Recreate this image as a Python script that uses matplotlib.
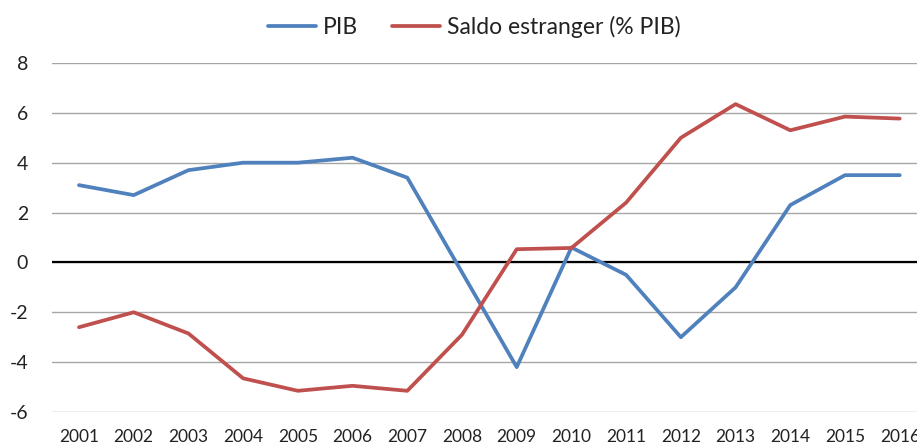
import matplotlib
matplotlib.use("Agg")
import matplotlib.pyplot as plt

years = ["2001", "2002", "2003", "2004", "2005", "2006", "2007", "2008",
         "2009", "2010", "2011", "2012", "2013", "2014", "2015", "2016"]
pib = [3.1, 2.7, 3.7, 4.0, 4.0, 4.2, 3.4, -0.4,
       -4.2, 0.6, -0.5, -3.0, -1.0, 2.3, 3.5, 3.5]
saldo = [-2.6, -2.0, -2.85, -4.65, -5.15, -4.95, -5.15, -2.9,
         0.53, 0.58, 2.4, 5.0, 6.35, 5.3, 5.85, 5.77]
yticks = [-6, -4, -2, 0, 2, 4, 6, 8]

plt.rcParams['font.family'] = ['Lato', 'DejaVu Sans']

fig = plt.figure(figsize=(9.17, 4.42), dpi=100)
ax = fig.add_axes([0.0563, 0.0679, 0.9547, 0.7896])

x = list(range(len(years)))
l1, = ax.plot(x, pib, color='#4F81BD', lw=2.7, label='PIB', solid_capstyle='round', solid_joinstyle='round', zorder=3)
l2, = ax.plot(x, saldo, color='#C0504D', lw=2.7, label='Saldo estranger (% PIB)', solid_capstyle='round', solid_joinstyle='round', zorder=3)

ax.set_xlim(-0.5, len(years) - 0.5)
ax.set_ylim(-6, 8)
ax.set_yticks(yticks)
ax.set_yticklabels([str(v) for v in yticks])
ax.set_xticks(x)
ax.set_xticklabels(years)
ax.grid(axis='y', color='#A6A6A6', lw=1.0, zorder=1)
ax.axhline(0, color='black', lw=1.6, zorder=2)
for s in ax.spines.values():
    s.set_visible(False)
ax.tick_params(axis='both', length=0, colors='#222222')
ax.tick_params(axis='y', pad=17, labelsize=14)
ax.tick_params(axis='x', pad=12, labelsize=12.5)

fig.legend(handles=[l1, l2], loc='center', bbox_to_anchor=(0.517, 0.939), ncol=2,
           frameon=False, fontsize=16.5, handlelength=2.1, handletextpad=0.3, columnspacing=1.5,
           labelcolor='#222222')

fig.savefig('out.png', dpi=100)
